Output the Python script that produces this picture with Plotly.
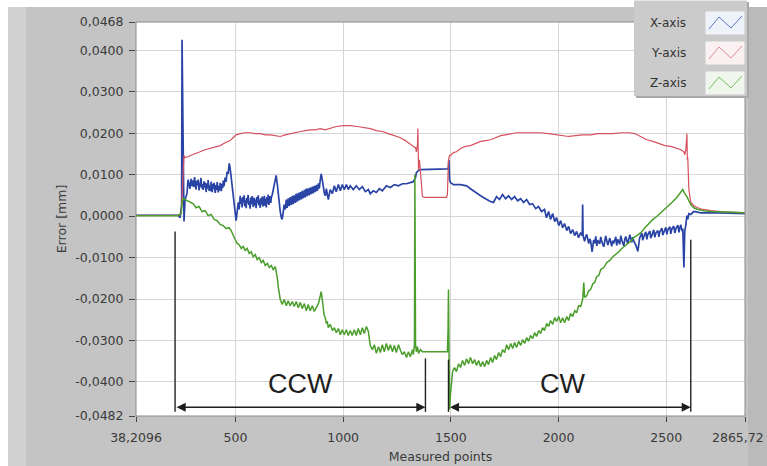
import plotly.graph_objects as go

# ---------------- data ----------------
x_tick_vals = [38.2096, 500, 1000, 1500, 2000, 2500, 2865.72]
x_tick_text = ["38,2096", "500", "1000", "1500", "2000", "2500", "2865,72"]
y_tick_vals = [0.0468, 0.04, 0.03, 0.02, 0.01, 0.0, -0.01, -0.02, -0.03, -0.04, -0.0482]
y_tick_text = ["0,0468", "0,0400", "0,0300", "0,0200", "0,0100", "0,0000",
               "-0,0100", "-0,0200", "-0,0300", "-0,0400", "-0,0482"]

# X-axis error (blue): (measured point, error mm)
x_axis_series = [
    (38, 0.0002), (234, 0.0002), (243, -0.0004), (250, 0.0028), (252, 0.0425), (257, 0.0076),
    (261, -0.0013), (266, 0.0040), (275, 0.0054), (280, 0.0088),
    (289, 0.0066), (294, 0.0090), (299, 0.0072), (303, 0.0086), (306, 0.0070), (310, 0.0094),
    (313, 0.0079), (317, 0.0064), (320, 0.0085), (322, 0.0074), (327, 0.0088), (331, 0.0062),
    (334, 0.0080), (336, 0.0071), (340, 0.0092), (343, 0.0067), (345, 0.0077), (350, 0.0063),
    (354, 0.0084), (357, 0.0069), (359, 0.0081), (364, 0.0058), (368, 0.0079), (371, 0.0066),
    (373, 0.0087), (378, 0.0061), (382, 0.0074), (385, 0.0060), (387, 0.0083), (392, 0.0058),
    (396, 0.0078), (399, 0.0066), (401, 0.0080), (406, 0.0056), (410, 0.0075), (413, 0.0063),
    (415, 0.0082), (420, 0.0057), (424, 0.0073), (427, 0.0062), (429, 0.0080), (434, 0.0060),
    (438, 0.0078), (441, 0.0068), (443, 0.0086), (447, 0.0072), (452, 0.0093),
    (457, 0.0083), (461, 0.0107), (466, 0.0102), (471, 0.0127), (475, 0.0117), (480, 0.0093),
    (485, 0.0069), (489, 0.0049), (494, 0.0025), (499, 0.0006), (503, -0.0011), (508, 0.0011),
    (513, 0.0033), (517, 0.0016),
    (522, 0.0049), (525, 0.0030), (527, 0.0042), (531, 0.0021), (534, 0.0046), (536, 0.0033),
    (540, 0.0050), (543, 0.0024), (545, 0.0038), (550, 0.0019), (552, 0.0044), (554, 0.0031),
    (559, 0.0051), (562, 0.0027), (564, 0.0036), (568, 0.0018), (571, 0.0045), (573, 0.0029),
    (578, 0.0048), (580, 0.0036), (582, 0.0022), (587, 0.0044), (590, 0.0025), (592, 0.0040),
    (596, 0.0019), (599, 0.0046), (601, 0.0032), (606, 0.0050), (608, 0.0026), (610, 0.0039),
    (615, 0.0020), (617, 0.0043), (620, 0.0028), (624, 0.0047), (627, 0.0023), (629, 0.0037),
    (634, 0.0049), (636, 0.0025), (638, 0.0041), (643, 0.0021), (645, 0.0046), (648, 0.0030),
    (652, 0.0052), (655, 0.0027), (657, 0.0040), (661, 0.0048), (664, 0.0032), (666, 0.0044),
    (671, 0.0052), (675, 0.0064), (680, 0.0078), (685, 0.0088),
    (689, 0.0098), (694, 0.0078), (699, 0.0052), (703, 0.0028), (708, 0.0011), (713, -0.0004),
    (717, -0.0008), (722, 0.0011), (726, 0.0028),
    (731, 0.0016), (736, 0.0040), (738, 0.0026), (740, 0.0020), (745, 0.0043), (747, 0.0031),
    (750, 0.0024), (754, 0.0046), (757, 0.0033), (759, 0.0027), (764, 0.0049), (766, 0.0035),
    (768, 0.0029), (773, 0.0050), (776, 0.0038), (778, 0.0032), (782, 0.0054), (785, 0.0041),
    (787, 0.0035), (792, 0.0056), (794, 0.0044), (796, 0.0038), (801, 0.0058), (804, 0.0046),
    (806, 0.0040), (810, 0.0061), (813, 0.0049), (815, 0.0043), (820, 0.0063), (822, 0.0052),
    (824, 0.0045), (829, 0.0066), (831, 0.0055), (833, 0.0048), (838, 0.0067), (840, 0.0057),
    (843, 0.0050), (847, 0.0069), (850, 0.0058), (852, 0.0053), (857, 0.0071), (859, 0.0061),
    (861, 0.0055), (866, 0.0073), (868, 0.0063), (871, 0.0058), (875, 0.0075), (878, 0.0065),
    (880, 0.0061), (885, 0.0079), (887, 0.0069), (889, 0.0066), (894, 0.0088),
    (898, 0.0102), (903, 0.0088), (908, 0.0069), (912, 0.0057), (917, 0.0049), (922, 0.0066),
    (931, 0.0040), (940, 0.0064), (950, 0.0054), (959, 0.0073), (968, 0.0059), (978, 0.0076),
    (987, 0.0061), (996, 0.0076), (1005, 0.0064), (1015, 0.0076), (1024, 0.0064), (1033, 0.0073),
    (1047, 0.0064), (1061, 0.0073), (1075, 0.0064), (1089, 0.0071), (1103, 0.0059), (1117, 0.0064),
    (1126, 0.0054), (1140, 0.0061), (1154, 0.0057), (1168, 0.0066), (1182, 0.0061), (1201, 0.0073),
    (1219, 0.0069), (1238, 0.0076), (1257, 0.0073), (1275, 0.0078), (1294, 0.0078), (1312, 0.0081),
    (1326, 0.0083), (1336, 0.0093), (1340, 0.0105), (1350, 0.0110), (1359, 0.0112),
    (1484, 0.0114), (1489, 0.0117), (1491, 0.0136), (1494, 0.0088), (1498, 0.0081),
    (1512, 0.0076), (1545, 0.0076), (1573, 0.0073), (1591, 0.0066), (1615, 0.0057), (1638, 0.0049),
    (1661, 0.0042), (1684, 0.0035), (1698, 0.0033), (1712, 0.0047), (1726, 0.0040), (1740, 0.0052),
    (1754, 0.0042), (1768, 0.0049), (1782, 0.0040), (1796, 0.0047), (1810, 0.0037), (1824, 0.0042),
    (1838, 0.0033), (1852, 0.0040), (1866, 0.0028), (1879, 0.0030), (1894, 0.0018), (1907, 0.0023),
    (1921, 0.0011), (1935, 0.0016), (1944, -0.0004), (1954, 0.0011), (1963, -0.0008), (1973, 0.0006),
    (1982, -0.0013), (1991, -0.0004), (2001, -0.0023), (2010, -0.0011), (2019, -0.0028), (2028, -0.0018),
    (2038, -0.0035), (2047, -0.0025), (2056, -0.0042), (2066, -0.0033), (2075, -0.0047), (2084, -0.0037),
    (2093, -0.0052), (2103, -0.0040), (2110, -0.0047), (2112, 0.0028), (2114, -0.0047), (2121, -0.0061),
    (2126, -0.0050), (2131, -0.0044), (2140, -0.0066), (2145, -0.0055), (2149, -0.0060), (2156, -0.0086),
    (2163, -0.0057), (2168, -0.0066), (2173, -0.0049), (2178, -0.0072), (2182, -0.0058), (2191, -0.0067),
    (2196, -0.0050), (2201, -0.0062), (2210, -0.0074), (2215, -0.0056), (2219, -0.0048), (2229, -0.0070),
    (2233, -0.0061), (2238, -0.0053), (2247, -0.0073), (2252, -0.0059), (2256, -0.0066), (2266, -0.0050),
    (2270, -0.0071), (2275, -0.0056), (2284, -0.0068), (2289, -0.0047), (2294, -0.0058), (2303, -0.0072),
    (2308, -0.0055), (2312, -0.0049), (2321, -0.0067), (2326, -0.0058), (2331, -0.0045), (2340, -0.0063),
    (2345, -0.0051), (2349, -0.0060), (2359, -0.0070), (2368, -0.0085), (2373, -0.0060), (2377, -0.0052),
    (2387, -0.0041), (2391, -0.0058), (2396, -0.0049), (2405, -0.0038), (2410, -0.0056), (2414, -0.0045),
    (2424, -0.0036), (2428, -0.0053), (2433, -0.0047), (2442, -0.0033), (2447, -0.0051), (2452, -0.0041),
    (2461, -0.0035), (2466, -0.0050), (2470, -0.0038), (2480, -0.0029), (2484, -0.0046), (2489, -0.0037),
    (2498, -0.0027), (2503, -0.0044), (2507, -0.0033), (2517, -0.0026), (2521, -0.0043), (2526, -0.0031),
    (2535, -0.0024), (2540, -0.0041), (2545, -0.0030), (2554, -0.0022), (2559, -0.0039), (2563, -0.0028),
    (2568, -0.0021), (2573, -0.0036), (2577, -0.0030), (2582, -0.0124), (2586, -0.0037), (2591, -0.0021),
    (2596, 0.0001), (2600, -0.0008), (2605, 0.0006), (2614, 0.0004), (2628, 0.0011), (2661, 0.0008),
    (2754, 0.0008), (2866, 0.0006),
]

# Y-axis error (red)
y_axis_series = [
    (38, 0.0002), (234, 0.0002), (248, 0.0006), (252, 0.0052), (257, 0.0136), (261, 0.0146),
    (266, 0.0141), (280, 0.0143), (299, 0.0148), (317, 0.0151), (336, 0.0155), (359, 0.0160),
    (382, 0.0163), (406, 0.0168), (429, 0.0170), (452, 0.0177), (475, 0.0182), (489, 0.0189),
    (503, 0.0196), (522, 0.0199), (545, 0.0201), (568, 0.0201), (592, 0.0199), (615, 0.0199),
    (638, 0.0196), (661, 0.0196), (685, 0.0194), (708, 0.0192), (731, 0.0196), (754, 0.0199),
    (778, 0.0201), (801, 0.0204), (824, 0.0206), (847, 0.0208), (871, 0.0208), (894, 0.0211),
    (917, 0.0208), (940, 0.0211), (968, 0.0216), (1001, 0.0218), (1033, 0.0218), (1066, 0.0216),
    (1098, 0.0213), (1126, 0.0211), (1154, 0.0206), (1182, 0.0204), (1210, 0.0199), (1238, 0.0194),
    (1266, 0.0189), (1289, 0.0182), (1312, 0.0172), (1326, 0.0168), (1336, 0.0165), (1340, 0.0155),
    (1345, 0.0172), (1347, 0.0211), (1350, 0.0112), (1354, 0.0136), (1359, 0.0107), (1363, 0.0064),
    (1368, 0.0047), (1377, 0.0045), (1480, 0.0045), (1484, 0.0052), (1489, 0.0136), (1494, 0.0146),
    (1498, 0.0146), (1512, 0.0153), (1526, 0.0155), (1545, 0.0163), (1568, 0.0168), (1591, 0.0170),
    (1615, 0.0175), (1638, 0.0180), (1661, 0.0182), (1684, 0.0184), (1708, 0.0189), (1731, 0.0194),
    (1754, 0.0196), (1777, 0.0199), (1805, 0.0201), (1833, 0.0201), (1870, 0.0201), (1917, 0.0201),
    (1954, 0.0199), (1987, 0.0196), (2019, 0.0194), (2047, 0.0192), (2080, 0.0194), (2112, 0.0196),
    (2149, 0.0196), (2182, 0.0199), (2219, 0.0199), (2252, 0.0199), (2289, 0.0201), (2326, 0.0201),
    (2354, 0.0199), (2382, 0.0192), (2410, 0.0184), (2438, 0.0180), (2466, 0.0175), (2494, 0.0170),
    (2521, 0.0168), (2549, 0.0163), (2568, 0.0160), (2582, 0.0155), (2586, 0.0148), (2591, 0.0160),
    (2596, 0.0199), (2598, 0.0136), (2600, 0.0141), (2605, 0.0064), (2610, 0.0045), (2614, 0.0033),
    (2628, 0.0025), (2647, 0.0020), (2670, 0.0016), (2707, 0.0013), (2754, 0.0011), (2866, 0.0008),
]

# Z-axis error (green)
z_axis_series = [
    (38, 0.0001), (234, 0.0001), (248, 0.0006), (252, 0.0033), (257, 0.0042), (266, 0.0040),
    (275, 0.0037), (289, 0.0033), (303, 0.0030), (317, 0.0020), (331, 0.0023), (345, 0.0011),
    (359, 0.0013), (373, 0.0001), (387, 0.0004), (401, -0.0008), (415, -0.0011), (429, -0.0020),
    (443, -0.0023), (457, -0.0030), (471, -0.0028), (480, -0.0035), (489, -0.0047), (499, -0.0057),
    (508, -0.0066), (517, -0.0069), (527, -0.0078), (536, -0.0073), (545, -0.0083), (554, -0.0078),
    (564, -0.0090), (573, -0.0086), (582, -0.0098), (592, -0.0093), (601, -0.0105), (610, -0.0100),
    (620, -0.0112), (629, -0.0107), (638, -0.0119), (648, -0.0114), (657, -0.0124), (666, -0.0119),
    (675, -0.0129), (685, -0.0122), (689, -0.0134), (694, -0.0148), (699, -0.0172), (703, -0.0192),
    (708, -0.0201), (717, -0.0213), (726, -0.0201), (736, -0.0216), (745, -0.0204), (754, -0.0216),
    (764, -0.0206), (773, -0.0218), (782, -0.0206), (792, -0.0221), (801, -0.0208), (810, -0.0223),
    (820, -0.0211), (829, -0.0228), (838, -0.0213), (847, -0.0228), (857, -0.0216), (866, -0.0230),
    (875, -0.0221), (885, -0.0211), (894, -0.0192), (898, -0.0182), (903, -0.0201), (908, -0.0225),
    (912, -0.0240), (917, -0.0245), (922, -0.0259), (926, -0.0254), (931, -0.0269), (940, -0.0261),
    (950, -0.0276), (959, -0.0269), (968, -0.0281), (978, -0.0271), (987, -0.0286), (996, -0.0274),
    (1005, -0.0286), (1015, -0.0274), (1024, -0.0288), (1033, -0.0276), (1042, -0.0288), (1052, -0.0274),
    (1061, -0.0288), (1070, -0.0271), (1080, -0.0286), (1089, -0.0269), (1098, -0.0283), (1108, -0.0266),
    (1117, -0.0278), (1122, -0.0298), (1126, -0.0312), (1136, -0.0322), (1145, -0.0310), (1154, -0.0331),
    (1164, -0.0315), (1173, -0.0329), (1182, -0.0310), (1191, -0.0327), (1201, -0.0307), (1210, -0.0324),
    (1219, -0.0310), (1229, -0.0327), (1238, -0.0312), (1247, -0.0329), (1257, -0.0310), (1266, -0.0324),
    (1275, -0.0334), (1284, -0.0327), (1294, -0.0341), (1303, -0.0327), (1312, -0.0339), (1322, -0.0322),
    (1326, -0.0334), (1331, -0.0310), (1333, 0.0100), (1336, -0.0310), (1340, -0.0327), (1345, -0.0315),
    (1350, -0.0331), (1359, -0.0322), (1368, -0.0327), (1382, -0.0327), (1484, -0.0327), (1487, -0.0274),
    (1489, -0.0177), (1491, -0.0298), (1494, -0.0466), (1498, -0.0430), (1503, -0.0394), (1508, -0.0375),
    (1517, -0.0365), (1526, -0.0375), (1536, -0.0356), (1545, -0.0365), (1554, -0.0348), (1564, -0.0360),
    (1573, -0.0344), (1582, -0.0356), (1591, -0.0341), (1601, -0.0356), (1610, -0.0346), (1619, -0.0360),
    (1629, -0.0348), (1638, -0.0363), (1647, -0.0351), (1657, -0.0363), (1666, -0.0348), (1675, -0.0358),
    (1685, -0.0341), (1694, -0.0353), (1703, -0.0336), (1712, -0.0346), (1722, -0.0329), (1731, -0.0339),
    (1740, -0.0322), (1750, -0.0329), (1759, -0.0310), (1768, -0.0322), (1778, -0.0307), (1787, -0.0319),
    (1796, -0.0305), (1805, -0.0317), (1815, -0.0302), (1824, -0.0312), (1833, -0.0298), (1843, -0.0307),
    (1852, -0.0293), (1861, -0.0302), (1870, -0.0288), (1880, -0.0295), (1889, -0.0281), (1898, -0.0290),
    (1908, -0.0276), (1917, -0.0283), (1926, -0.0269), (1935, -0.0276), (1945, -0.0259), (1954, -0.0266),
    (1963, -0.0252), (1973, -0.0261), (1982, -0.0245), (1991, -0.0254), (2001, -0.0242), (2010, -0.0257),
    (2019, -0.0245), (2028, -0.0257), (2038, -0.0242), (2047, -0.0252), (2056, -0.0235), (2066, -0.0242),
    (2075, -0.0228), (2084, -0.0233), (2093, -0.0216), (2103, -0.0218), (2112, -0.0201), (2117, -0.0160),
    (2121, -0.0196), (2131, -0.0192), (2140, -0.0180), (2149, -0.0177), (2159, -0.0163), (2168, -0.0160),
    (2177, -0.0146), (2187, -0.0143), (2196, -0.0129), (2210, -0.0124), (2224, -0.0112), (2238, -0.0107),
    (2252, -0.0098), (2266, -0.0093), (2280, -0.0086), (2294, -0.0078), (2308, -0.0073), (2322, -0.0066),
    (2335, -0.0061), (2349, -0.0052), (2363, -0.0047), (2382, -0.0040), (2401, -0.0028), (2419, -0.0018),
    (2438, -0.0008), (2456, -0.0001), (2475, 0.0008), (2494, 0.0018), (2512, 0.0025), (2531, 0.0035),
    (2549, 0.0045), (2568, 0.0057), (2577, 0.0064), (2586, 0.0054), (2596, 0.0047), (2605, 0.0037),
    (2614, 0.0028), (2628, 0.0020), (2647, 0.0016), (2675, 0.0013), (2707, 0.0011), (2866, 0.0008),
]

series_names = ["X-axis", "Y-axis", "Z-axis"]
series_colors = ["#2a44a6", "#d6505e", "#4b9e2c"]

# ---------------- figure ----------------
W, H = 767, 466
L, R, T, B = 136, 22, 22, 50
PW, PH = W - L - R, H - T - B


def pxx(x):
    return (x - L) / PW


def pxy(y):
    return (H - B - y) / PH


fig = go.Figure()
for name, data, col, wdt in zip(series_names, [x_axis_series, y_axis_series, z_axis_series],
                                series_colors, [1.7, 1.2, 1.5]):
    fig.add_trace(go.Scatter(
        x=[p[0] for p in data], y=[p[1] for p in data], name=name, mode="lines",
        line=dict(color=col, width=wdt), showlegend=False))

font_fam = "DejaVu Sans"
txt_col = "#3a3a3a"

shapes = []
# panel bezel
shapes.append(dict(type="rect", xref="paper", yref="paper", x0=pxx(0), x1=pxx(W), y0=pxy(7), y1=pxy(0),
                   fillcolor="#ffffff", line=dict(width=0), layer="below"))
shapes.append(dict(type="rect", xref="paper", yref="paper", x0=pxx(0), x1=pxx(8), y0=pxy(H), y1=pxy(0),
                   fillcolor="#ffffff", line=dict(width=0), layer="below"))
shapes.append(dict(type="rect", xref="paper", yref="paper", x0=pxx(8), x1=pxx(26), y0=pxy(H), y1=pxy(7),
                   fillcolor="#d2d2d2", line=dict(width=0), layer="below"))
shapes.append(dict(type="rect", xref="paper", yref="paper", x0=pxx(748), x1=pxx(W), y0=pxy(H), y1=pxy(7),
                   fillcolor="#bababa", line=dict(width=0), layer="below"))
# plot frame
shapes.append(dict(type="rect", xref="paper", yref="paper", x0=0, x1=1, y0=0, y1=1,
                   line=dict(color="#8a8a8a", width=1), layer="above"))

# measurement markers (vertical lines)
marker_lines = [(219.6, -0.0037), (1382, -0.0343), (1489, -0.0346), (2614, -0.0057)]
for xv, ytop in marker_lines:
    shapes.append(dict(type="line", xref="x", yref="y", x0=xv, x1=xv, y0=ytop, y1=-0.0472,
                       line=dict(color="#222222", width=1.4), layer="above"))

# custom legend (LabVIEW style)
shapes.append(dict(type="rect", xref="paper", yref="paper", x0=pxx(636), x1=pxx(749), y0=pxy(98), y1=pxy(2),
                   fillcolor="#a8a8a8", line=dict(width=0), layer="above"))
shapes.append(dict(type="rect", xref="paper", yref="paper", x0=pxx(634), x1=pxx(747), y0=pxy(96), y1=pxy(0.5),
                   fillcolor="#cbcbcb", line=dict(width=0), layer="above"))
sw_fill = ["#eef3fb", "#fbf0f2", "#eff7ec"]
sw_line = ["#5a74bb", "#e08a94", "#7dbb68"]
for i in range(3):
    top = 12 + 30 * i
    bot = top + 22
    shapes.append(dict(type="rect", xref="paper", yref="paper", x0=pxx(706), x1=pxx(744), y0=pxy(bot), y1=pxy(top),
                       fillcolor=sw_fill[i], line=dict(color="#f4f4f4", width=1), layer="above"))
    pts = [(709, bot - 5), (719, top + 5), (731, bot - 6), (742, top + 4)]
    path = "M " + " L ".join(f"{pxx(a):.5f},{pxy(b):.5f}" for a, b in pts)
    shapes.append(dict(type="path", xref="paper", yref="paper", path=path,
                       line=dict(color=sw_line[i], width=1), layer="above"))

annotations = []
for i, nm in enumerate(series_names):
    annotations.append(dict(x=pxx(668), y=pxy(23 + 30 * i), xref="paper", yref="paper", text=nm,
                            xanchor="center", yanchor="middle", showarrow=False,
                            font=dict(family=font_fam, size=12, color="#333333")))

# last x tick label drawn right-aligned so it stays inside the picture
x_tick_labels_axis = x_tick_text[:-1] + [""]
annotations.append(dict(x=pxx(766), y=pxy(437), xref="paper", yref="paper", text=x_tick_text[-1],
                        xanchor="right", yanchor="middle", showarrow=False,
                        font=dict(family=font_fam, size=12.5, color=txt_col)))

# direction labels and arrows
annotations.append(dict(x=801, y=-0.0406, xref="x", yref="y", text="CCW", showarrow=False,
                        xanchor="center", yanchor="middle",
                        font=dict(family="Liberation Sans", size=27, color="#1e1e1e")))
annotations.append(dict(x=2018, y=-0.0406, xref="x", yref="y", text="CW", showarrow=False,
                        xanchor="center", yanchor="middle",
                        font=dict(family="Liberation Sans", size=27, color="#1e1e1e")))
for x0, x1 in [(219.6, 1382), (1489, 2614)]:
    annotations.append(dict(x=x1, y=-0.0461, ax=x0, ay=-0.0461, xref="x", yref="y", axref="x", ayref="y",
                            text="", showarrow=True, arrowhead=2, startarrowhead=2, arrowside="end+start",
                            arrowsize=1.3, startarrowsize=1.3, arrowwidth=1.4, arrowcolor="#1e1e1e"))

fig.update_layout(
    width=W, height=H, autosize=False,
    margin=dict(l=L, r=R, t=T, b=B),
    paper_bgcolor="#c4c4c4", plot_bgcolor="#ffffff",
    font=dict(family=font_fam, size=12.5, color=txt_col),
    shapes=shapes, annotations=annotations,
    xaxis=dict(range=[38.2096, 2865.72], tickvals=x_tick_vals, ticktext=x_tick_labels_axis,
               showgrid=True, gridcolor="#d6d6d6", gridwidth=1, zeroline=False,
               ticks="outside", ticklen=5, tickcolor="#444444", ticklabelstandoff=5,
               ticklabeloverflow="allow",
               showline=False, automargin=False,
               title=dict(text="Measured points", standoff=8, font=dict(size=12.5))),
    yaxis=dict(range=[-0.0482, 0.0468], tickvals=y_tick_vals, ticktext=y_tick_text,
               showgrid=True, gridcolor="#d6d6d6", gridwidth=1, zeroline=False,
               ticks="outside", ticklen=6, tickcolor="#444444", ticklabelstandoff=3,
               ticklabeloverflow="allow",
               showline=False, automargin=False,
               title=dict(text="Error [mm]", standoff=5, font=dict(size=12.5))),
)

fig.write_html("out.html", config={"displayModeBar": False},
               post_script="document.body.style.margin='0px';document.body.style.overflow='hidden';")
